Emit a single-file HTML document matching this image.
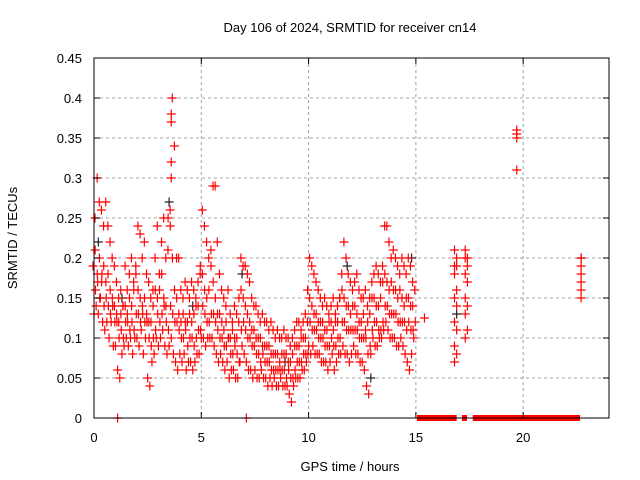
<!DOCTYPE html>
<html><head><meta charset="utf-8"><style>
body{margin:0;background:#fff}
svg{display:block;font-family:"Liberation Sans",sans-serif}
</style></head><body>
<svg id="chart" width="640" height="480" viewBox="0 0 640 480">
<rect width="640" height="480" fill="#fff"/>
<g id="grid"></g>
<g id="marks"></g>
<rect x="94" y="58" width="515" height="360" fill="none" stroke="#000" stroke-width="1"/>
<g id="axes"></g>
<text x="350" y="32" text-anchor="middle" font-size="13">Day 106 of 2024, SRMTID for receiver cn14</text>
<text x="350" y="471" text-anchor="middle" font-size="13">GPS time / hours</text>
<text transform="translate(17,238) rotate(-90)" text-anchor="middle" font-size="13">SRMTID / TECUs</text>
</svg>
<script>
const xTicks=[0,5,10,15,20];
const yTicks=[0,0.05,0.1,0.15,0.2,0.25,0.3,0.35,0.4,0.45];
const yTickLabels=["0","0.05","0.1","0.15","0.2","0.25","0.3","0.35","0.4","0.45"];
const hours=[0.0,0.1,0.2,0.3,0.4,0.5,0.6,0.7,0.8,0.9,1.0,1.1,1.2,1.3,1.4,1.5,1.6,1.7,1.8,1.9,2.0,2.1,2.2,2.3,2.4,2.5,2.6,2.7,2.8,2.9,3.0,3.1,3.2,3.3,3.4,3.5,3.6,3.7,3.8,3.9,4.0,4.1,4.2,4.3,4.4,4.5,4.6,4.7,4.8,4.9,5.0,5.1,5.2,5.3,5.4,5.5,5.6,5.7,5.8,5.9,6.0,6.1,6.2,6.3,6.4,6.5,6.6,6.7,6.8,6.9,7.0,7.1,7.2,7.3,7.4,7.5,7.6,7.7,7.8,7.9,8.0,8.1,8.2,8.3,8.4,8.5,8.6,8.7,8.8,8.9,9.0,9.1,9.2,9.3,9.4,9.5,9.6,9.7,9.8,9.9,10.0,10.1,10.2,10.3,10.4,10.5,10.6,10.7,10.8,10.9,11.0,11.1,11.2,11.3,11.4,11.5,11.6,11.7,11.8,11.9,12.0,12.1,12.2,12.3,12.4,12.5,12.6,12.7,12.8,12.9,13.0,13.1,13.2,13.3,13.4,13.5,13.6,13.7,13.8,13.9,14.0,14.1,14.2,14.3,14.4,14.5,14.6,14.7,14.8,14.9];
const srmtidHi=[.25,.30,.27,.26,.24,.27,.24,.22,.20,.19,.17,.15,.16,.14,.19,.16,.18,.20,.17,.19,.24,.23,.20,.22,.18,.17,.15,.16,.20,.24,.18,.22,.25,.20,.21,.26,.40,.34,.20,.20,.16,.15,.17,.16,.15,.17,.16,.15,.17,.18,.26,.24,.22,.20,.21,.29,.29,.22,.18,.16,.15,.14,.16,.13,.12,.14,.13,.12,.20,.19,.19,.18,.17,.15,.14,.14,.13,.12,.13,.12,.12,.11,.12,.11,.10,.11,.10,.10,.11,.10,.10,.09,.10,.11,.12,.12,.11,.12,.13,.12,.20,.19,.18,.17,.16,.15,.14,.15,.14,.13,.14,.15,.13,.14,.15,.18,.22,.20,.18,.17,.16,.17,.18,.16,.15,.15,.16,.14,.15,.17,.18,.19,.18,.17,.19,.24,.24,.22,.20,.21,.20,.19,.18,.20,.19,.18,.20,.19,.17,.16];
const srmtidM2=[.19,.21,.18,.20,.17,.19,.17,.18,.16,.15,.14,.13,.12,.13,.14,.14,.13,.15,.14,.16,.18,.16,.15,.14,.15,.13,.12,.12,.14,.16,.15,.16,.18,.15,.14,.25,.24,.20,.16,.15,.13,.12,.13,.12,.12,.13,.12,.13,.14,.14,.19,.18,.16,.15,.16,.19,.17,.15,.13,.13,.12,.11,.12,.10,.10,.11,.10,.10,.15,.16,.15,.14,.13,.12,.11,.11,.10,.10,.10,.09,.09,.09,.09,.08,.08,.08,.08,.07,.08,.08,.08,.07,.07,.08,.09,.09,.09,.10,.10,.10,.16,.15,.14,.13,.13,.12,.12,.12,.11,.11,.12,.12,.11,.12,.12,.15,.16,.15,.14,.14,.13,.14,.14,.13,.12,.12,.13,.11,.12,.13,.15,.15,.14,.14,.15,.17,.18,.17,.16,.17,.16,.16,.15,.16,.15,.14,.15,.15,.14,.14];
const srmtidM1=[.16,.17,.15,.18,.14,.15,.14,.13,.14,.12,.12,.10,.11,.10,.12,.12,.11,.12,.11,.13,.13,.12,.13,.12,.12,.10,.09,.10,.11,.13,.12,.13,.14,.12,.11,.14,.13,.12,.12,.11,.10,.10,.11,.09,.10,.10,.09,.10,.11,.11,.14,.13,.12,.12,.13,.13,.12,.11,.10,.10,.09,.09,.10,.08,.08,.09,.08,.07,.11,.12,.11,.10,.10,.09,.09,.08,.08,.07,.08,.07,.07,.07,.06,.06,.06,.06,.06,.06,.06,.05,.06,.05,.05,.06,.07,.07,.07,.08,.08,.08,.12,.11,.11,.11,.10,.10,.10,.09,.09,.09,.10,.09,.09,.10,.10,.12,.12,.11,.11,.11,.11,.11,.11,.10,.10,.10,.10,.08,.09,.11,.12,.12,.11,.11,.12,.14,.14,.13,.13,.13,.13,.12,.12,.12,.12,.11,.12,.11,.11,.12];
const srmtidLo=[.13,.14,.13,.15,.12,.11,.12,.10,.12,.09,.09,.06,.05,.08,.09,.10,.09,.10,.08,.10,.10,.09,.11,.08,.10,.05,.04,.07,.08,.10,.09,.10,.11,.09,.08,.09,.10,.08,.07,.06,.08,.07,.08,.06,.07,.07,.06,.07,.08,.08,.10,.10,.09,.10,.10,.10,.09,.08,.07,.08,.07,.06,.07,.05,.06,.06,.05,.05,.07,.09,.08,.07,.06,.06,.05,.06,.05,.05,.06,.05,.05,.04,.05,.04,.05,.04,.04,.05,.04,.04,.04,.03,.02,.04,.05,.05,.05,.06,.06,.07,.09,.08,.09,.08,.08,.08,.07,.07,.07,.06,.07,.08,.06,.07,.08,.08,.09,.08,.08,.07,.08,.09,.08,.08,.07,.07,.06,.04,.03,.08,.10,.09,.09,.10,.10,.11,.12,.11,.10,.10,.10,.09,.09,.10,.09,.08,.07,.06,.08,.10];
const extraHours=[3.6,3.6,3.6,3.6,15.4,16.8,16.8,16.8,16.8,16.8,16.8,16.8,16.9,16.9,16.9,16.9,16.9,16.9,17.3,17.3,17.3,17.3,17.3,17.3,17.4,17.4,17.4,17.4,17.4,19.7,19.7,19.7,19.7,22.7,22.7,22.7,22.7,22.7,22.7,1.1,7.1];
const extraValues=[.38,.37,.32,.30,.125,.07,.09,.12,.15,.18,.19,.21,.08,.11,.14,.16,.19,.20,.10,.13,.15,.18,.20,.21,.11,.14,.17,.19,.20,.31,.35,.355,.36,.15,.16,.17,.18,.19,.20,0,0];
const blackHours=[0.2,1.3,3.5,4.6,6.9,8.9,11.8,12.9,14.8,16.9,22.7];
const blackValues=[.22,.15,.27,.14,.18,.07,.19,.05,.20,.13,.20];
const zeroStart=[15.05,17.15,17.65];
const zeroEnd=[16.9,17.38,22.65];

const NS="http://www.w3.org/2000/svg";
const X=h=>94+h*(515/24);
const Y=v=>418-v*800;
const grid=document.getElementById('grid'),axes=document.getElementById('axes'),marks=document.getElementById('marks');
function mk(tag,attrs,parent){const e=document.createElementNS(NS,tag);for(const k in attrs)e.setAttribute(k,attrs[k]);parent.appendChild(e);return e;}
yTicks.forEach((v,i)=>{
  const y=Y(v);
  if(i>0&&i<yTicks.length-1){const g=mk('line',{x1:94,x2:609,y1:y,y2:y,stroke:'#a0a0a0','stroke-dasharray':'3,3'},grid);
  
  }
  const t1=mk('line',{x1:94,x2:100,y1:y,y2:y,stroke:'#000'},axes);
  
  
  const t2=mk('line',{x1:603,x2:609,y1:y,y2:y,stroke:'#000'},axes);
  
  
  const l=mk('text',{x:82,y:y+5,'text-anchor':'end','font-size':'13'},axes);l.textContent=yTickLabels[i];
  
  
});
xTicks.forEach(h=>{
  const x=X(h);
  if(h>0){const g=mk('line',{x1:x,x2:x,y1:58,y2:418,stroke:'#a0a0a0','stroke-dasharray':'3,3'},grid);
  
  }
  const t1=mk('line',{x1:x,x2:x,y1:412,y2:418,stroke:'#000'},axes);
  
  
  const t2=mk('line',{x1:x,x2:x,y1:58,y2:64,stroke:'#000'},axes);
  
  
  const l=mk('text',{x:x,y:442,'text-anchor':'middle','font-size':'13'},axes);l.textContent=String(h);
  
  
});
function plus(h,v,color,dx){
  const x=X(h)+dx,y=Y(v);
  const p=mk('path',{d:`M${x-4.5},${y}H${x+4.5}M${x},${y-4.5}V${y+4.5}`,stroke:color,'stroke-width':'1.2',fill:'none'},marks);
  
  
}
blackHours.forEach((h,i)=>plus(h,blackValues[i],'#202020',0));
hours.forEach((h,i)=>{
  plus(h,srmtidLo[i],'#ff0000',0);
  plus(h,srmtidM1[i],'#ff0000',1.5);
  plus(h,srmtidM2[i],'#ff0000',-1);
  plus(h,srmtidHi[i],'#ff0000',1);
});
extraHours.forEach((h,i)=>plus(h,extraValues[i],'#ff0000',0));
zeroStart.forEach((s,i)=>{
  const r=mk('rect',{x:X(s),y:415,width:X(zeroEnd[i])-X(s),height:6,fill:'#ff0000'},marks);
  
  
});
</script>
</body></html>
